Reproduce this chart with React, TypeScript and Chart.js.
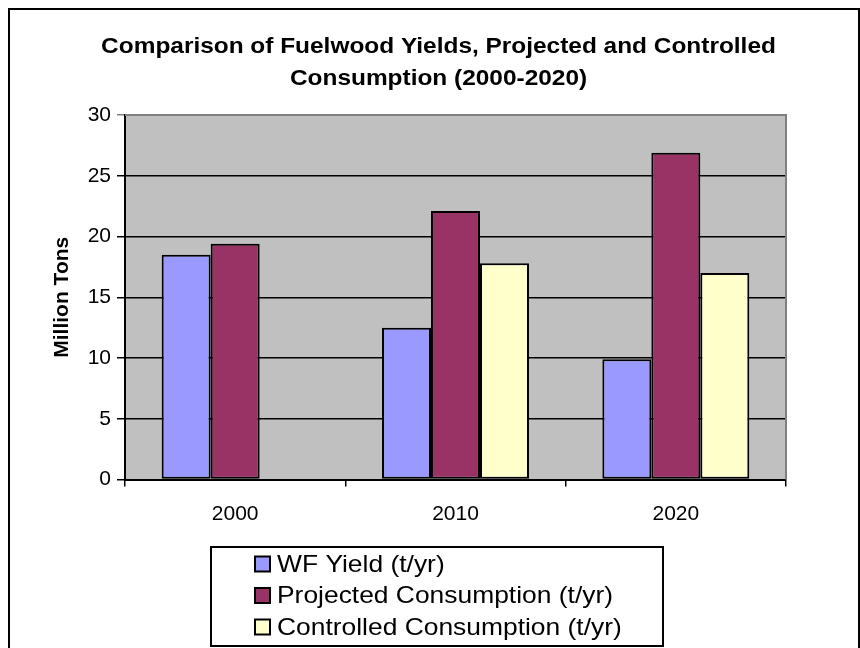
import React, { useEffect, useRef } from "react";
import { Chart, registerables } from "chart.js";

Chart.register(...registerables);

const categories = ["2000", "2010", "2020"];
const wfYield = [18.5, 12.5, 9.9];
const projectedConsumption = [19.4, 22.1, 26.9];
const controlledConsumption: (number | null)[] = [null, 17.8, 17.0];
const seriesLabels = [
  "WF Yield (t/yr)",
  "Projected Consumption (t/yr)",
  "Controlled Consumption (t/yr)",
];
const seriesColors = ["#9999FF", "#993366", "#FFFFCC"];
const titleLines = [
  "Comparison of Fuelwood Yields, Projected and Controlled",
  "Consumption (2000-2020)",
];
const yAxisTitle = "Million Tons";
const yMin = 0;
const yMax = 30;
const yStep = 5;

const FONT = '"Liberation Sans", Arial, sans-serif';

const plotBackground = {
  id: "plotBackground",
  beforeDraw(chart: any) {
    const { ctx, chartArea } = chart;
    ctx.save();
    ctx.fillStyle = "#C0C0C0";
    ctx.fillRect(chartArea.left, chartArea.top, chartArea.right - chartArea.left, chartArea.bottom - chartArea.top);
    ctx.restore();
  },
  beforeDatasetsDraw(chart: any) {
    const { ctx, chartArea } = chart;
    ctx.save();
    ctx.strokeStyle = "#808080";
    ctx.lineWidth = 2;
    ctx.beginPath();
    ctx.moveTo(chartArea.left, chartArea.top);
    ctx.lineTo(chartArea.right, chartArea.top);
    ctx.lineTo(chartArea.right, chartArea.bottom);
    ctx.stroke();
    ctx.restore();
  },
};

// Chart title, drawn slightly widened like the original export
const wideTitle = {
  id: "wideTitle",
  afterDraw(chart: any) {
    const { ctx } = chart;
    const cx = chart.width / 2 + 4.5;
    ctx.save();
    ctx.fillStyle = "#000000";
    ctx.font = `bold 22px ${FONT}`;
    ctx.textAlign = "center";
    ctx.textBaseline = "alphabetic";
    titleLines.forEach((line, i) => {
      ctx.save();
      ctx.translate(cx, 42.7 + i * 32.3);
      ctx.scale(1.11, 1);
      ctx.fillText(line, 0, 0);
      ctx.restore();
    });
    ctx.restore();
  },
};

const boxLegend = {
  id: "boxLegend",
  afterDraw(chart: any) {
    const { ctx, chartArea } = chart;
    const boxW = 452;
    const boxH = 99;
    const x0 = chart.width / 2 - boxW / 2 + 3;
    const y0 = chartArea.bottom + 67.5;
    ctx.save();
    ctx.fillStyle = "#FFFFFF";
    ctx.fillRect(x0, y0, boxW, boxH);
    ctx.lineWidth = 2;
    ctx.strokeStyle = "#000000";
    ctx.strokeRect(x0, y0, boxW, boxH);
    ctx.font = `24px ${FONT}`;
    ctx.textBaseline = "middle";
    ctx.textAlign = "left";
    chart.data.datasets.forEach((ds: any, i: number) => {
      const cy = y0 + 17 + i * 31.5;
      ctx.fillStyle = ds.backgroundColor;
      ctx.fillRect(x0 + 44, cy - 7.5, 15, 15);
      ctx.lineWidth = 2;
      ctx.strokeStyle = "#000000";
      ctx.strokeRect(x0 + 44, cy - 7.5, 15, 15);
      ctx.fillStyle = "#000000";
      ctx.save();
      ctx.translate(x0 + 66, cy + 1);
      ctx.scale(1.1, 1);
      ctx.fillText(ds.label, 0, 0);
      ctx.restore();
    });
    ctx.restore();
  },
};

export default function App() {
  const canvasRef = useRef<HTMLCanvasElement | null>(null);

  useEffect(() => {
    if (!canvasRef.current) return;
    const seriesValues = [wfYield, projectedConsumption, controlledConsumption];
    const chart = new Chart(canvasRef.current, {
      type: "bar",
      data: {
        labels: categories,
        datasets: seriesValues.map((vals, i) => ({
          label: seriesLabels[i],
          data: vals,
          backgroundColor: seriesColors[i],
          borderColor: "#000000",
          borderWidth: 2,
          borderSkipped: false,
          categoryPercentage: 0.667,
          barPercentage: 1,
        })),
      },
      options: {
        responsive: false,
        animation: false,
        layout: { padding: { left: 0, right: 72, top: 105, bottom: 0 } },
        plugins: {
          legend: { display: false },
          tooltip: { enabled: false },
          title: { display: false },
        },
        scales: {
          x: {
            offset: true,
            grid: {
              offset: true,
              drawOnChartArea: false,
              drawTicks: true,
              tickLength: 7,
              color: "#000000",
              lineWidth: 1.5,
            },
            border: { display: true, color: "#000000", width: 2 },
            ticks: { color: "#000000", font: { family: FONT, size: 21 }, padding: 15 },
            afterFit(scale: any) {
              scale.height = 170.5;
            },
          },
          y: {
            min: yMin,
            max: yMax,
            ticks: { stepSize: yStep, color: "#000000", font: { family: FONT, size: 21 }, padding: 6 },
            grid: {
              color: (ctx: any) => (ctx.tick && ctx.tick.value === yMax ? "#808080" : "#000000"),
              lineWidth: 1.5,
              tickLength: 8,
              drawTicks: true,
            },
            border: { display: true, color: "#000000", width: 2 },
            title: {
              display: true,
              text: yAxisTitle,
              color: "#000000",
              font: { family: FONT, size: 21, weight: "bold" },
              padding: { top: 40, bottom: 0 },
            },
            afterFit(scale: any) {
              scale.width = 115;
            },
          },
        },
      },
      plugins: [plotBackground, wideTitle, boxLegend],
    });
    return () => chart.destroy();
  }, []);

  return (
    <>
      <style>{`html, body { overflow: hidden; }`}</style>
      <div
        style={{
          position: "absolute",
          left: 8,
          top: 8,
          width: 848,
          height: 660,
          border: "2px solid #000000",
          background: "#FFFFFF",
        }}
      >
        <canvas ref={canvasRef} width={848} height={640} style={{ display: "block" }} />
      </div>
    </>
  );
}
